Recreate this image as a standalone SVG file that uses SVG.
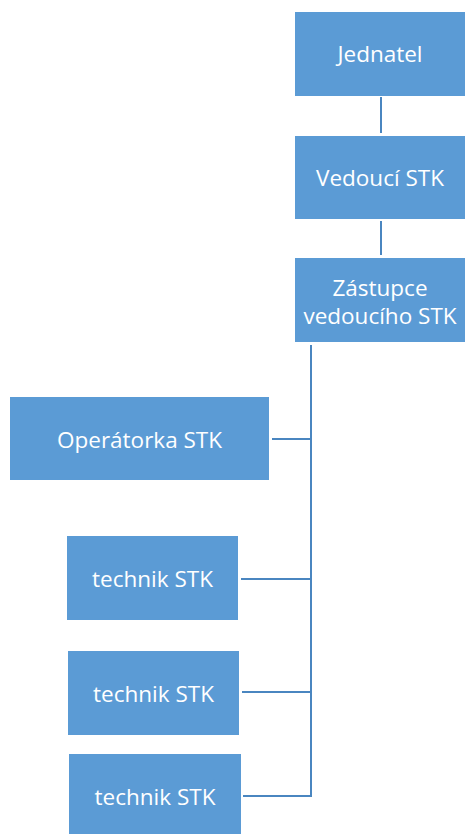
<svg xmlns="http://www.w3.org/2000/svg" width="465" height="834" viewBox="0 0 465 834">
<style>
.box{fill:#5B9BD5;}
.lbl{font-family:"Open Sans","Liberation Sans",sans-serif;font-size:22.5px;fill:#FFFFFF;text-anchor:middle;dominant-baseline:central;}
.con{stroke:#4A86C0;stroke-width:2;fill:none;}
</style>
<rect width="465" height="834" fill="#FFFFFF"/>
<g id="connectors">
<line class="con" x1="381" y1="97" x2="381" y2="133"/>
<line class="con" x1="381" y1="221" x2="381" y2="255"/>
<polyline class="con" points="311,345 311,796 243,796"/>
<line class="con" x1="272" y1="439" x2="311" y2="439"/>
<line class="con" x1="241" y1="579" x2="311" y2="579"/>
<line class="con" x1="242" y1="692" x2="311" y2="692"/>
</g>
<g id="jednatel">
<rect class="box" x="295" y="12" width="170" height="84"/>
<text class="lbl" x="380" y="53">Jednatel</text>
</g>
<g id="vedouci">
<rect class="box" x="295" y="136" width="170" height="83"/>
<text class="lbl" x="380" y="177">Vedoucí STK</text>
</g>
<g id="zastupce">
<rect class="box" x="295" y="258" width="170" height="84"/>
<text class="lbl" x="380" y="287">Zástupce</text>
<text class="lbl" x="380" y="315">vedoucího STK</text>
</g>
<g id="operatorka">
<rect class="box" x="10" y="397" width="259" height="83"/>
<text class="lbl" x="139.5" y="439">Operátorka STK</text>
</g>
<g id="technik1">
<rect class="box" x="67" y="536" width="171" height="84"/>
<text class="lbl" x="152.5" y="578">technik STK</text>
</g>
<g id="technik2">
<rect class="box" x="68" y="651" width="171" height="84"/>
<text class="lbl" x="153.5" y="693">technik STK</text>
</g>
<g id="technik3">
<rect class="box" x="69" y="754" width="172" height="84"/>
<text class="lbl" x="155" y="796">technik STK</text>
</g>
</svg>
